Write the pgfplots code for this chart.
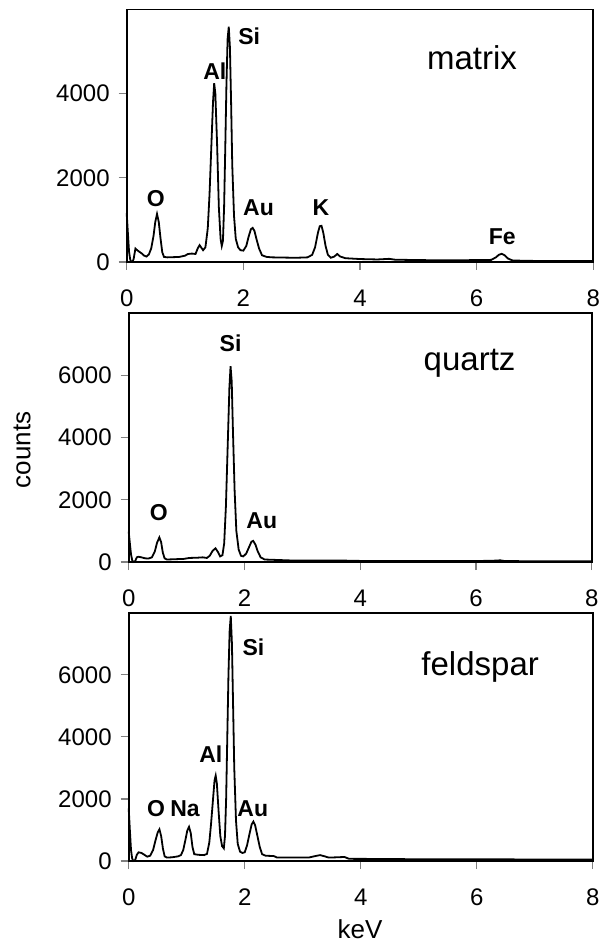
\documentclass[border=0pt]{standalone}
\usepackage{pgfplots}
\pgfplotsset{compat=1.18}
\usepackage{fontspec}
\setmainfont{Liberation Sans}

% EDX spectra, counts against keV
\pgfplotstableread{
x y
0.00 1160
0.02 700
0.04 250
0.06 60
0.08 0
0.10 0
0.12 80
0.15 320
0.18 280
0.22 240
0.26 200
0.30 150
0.34 130
0.38 180
0.42 320
0.46 620
0.49 950
0.52 1140
0.55 950
0.58 560
0.61 230
0.64 120
0.70 110
0.80 115
0.90 120
1.00 150
1.05 190
1.12 200
1.18 190
1.22 330
1.25 400
1.28 340
1.31 280
1.35 350
1.39 800
1.42 1600
1.45 2700
1.48 3800
1.50 4250
1.52 4000
1.55 2800
1.58 1300
1.61 550
1.63 380
1.65 500
1.67 1300
1.69 2700
1.71 4200
1.73 5300
1.75 5590
1.77 5100
1.79 3800
1.81 2300
1.84 1100
1.87 550
1.91 350
1.95 280
2.00 270
2.05 380
2.09 600
2.13 780
2.16 810
2.19 740
2.23 520
2.27 320
2.32 160
2.40 120
2.50 110
2.70 105
2.90 100
3.10 110
3.18 170
3.23 350
3.28 700
3.31 850
3.34 860
3.37 700
3.41 380
3.45 170
3.50 100
3.56 130
3.61 190
3.66 130
3.75 90
4.00 70
4.30 60
4.50 75
4.60 55
5.00 45
5.50 40
6.00 45
6.25 50
6.33 110
6.38 170
6.43 195
6.48 160
6.54 80
6.62 35
7.00 25
7.50 20
8.00 20
}\matrixdata

\pgfplotstableread{
x y
0.00 975
0.02 600
0.04 250
0.06 60
0.08 0
0.11 20
0.14 150
0.17 170
0.22 150
0.28 120
0.34 110
0.40 150
0.45 330
0.49 620
0.53 790
0.56 640
0.59 300
0.62 120
0.66 80
0.80 90
0.95 100
1.05 130
1.20 140
1.28 150
1.35 130
1.40 200
1.45 360
1.50 440
1.54 330
1.58 180
1.62 220
1.65 600
1.68 1800
1.71 3700
1.74 5600
1.76 6290
1.78 5800
1.80 4300
1.83 2300
1.86 1000
1.90 400
1.94 200
1.98 180
2.03 270
2.08 480
2.12 650
2.15 680
2.19 560
2.23 340
2.28 150
2.35 80
2.50 70
2.80 50
3.20 45
3.60 50
4.00 35
5.00 30
6.00 30
6.35 45
6.42 55
6.50 30
7.00 25
8.00 25
}\quartzdata

\pgfplotstableread{
x y
0.00 1700
0.02 1000
0.04 350
0.06 80
0.08 0
0.11 20
0.14 200
0.17 280
0.22 260
0.27 200
0.32 140
0.37 170
0.42 350
0.46 650
0.50 920
0.53 1020
0.56 800
0.59 400
0.62 150
0.66 110
0.75 120
0.85 150
0.90 190
0.94 350
0.98 700
1.01 980
1.04 1100
1.07 900
1.10 450
1.13 220
1.20 200
1.30 190
1.35 230
1.39 600
1.42 1200
1.45 1900
1.48 2600
1.50 2750
1.52 2500
1.55 1600
1.58 800
1.61 480
1.64 410
1.66 800
1.68 2000
1.70 4000
1.72 6000
1.74 7400
1.76 7900
1.78 7000
1.80 5000
1.82 3000
1.85 1300
1.88 550
1.92 300
1.96 260
2.00 280
2.04 500
2.08 850
2.12 1180
2.15 1270
2.18 1150
2.22 800
2.26 450
2.30 220
2.36 170
2.50 160
2.56 110
2.80 110
3.10 110
3.22 160
3.30 190
3.38 150
3.45 110
3.60 120
3.72 130
3.80 70
4.50 65
5.00 55
6.00 55
7.00 50
8.00 50
}\feldspardata

\pgfplotsset{
  edx/.style={
    scale only axis,
    xmin=0, xmax=8, ymin=0,
    xtick={0,2,4,6,8},
    tick align=outside,
    major tick length=4pt,
    xtick pos=bottom, ytick pos=left,
    tick style={gray, line width=0.6pt},
    axis line style={line width=0.9pt},
    tick label style={font=\fontsize{12}{14}\selectfont},
    xticklabel style={yshift=-6.5pt},
    yticklabel style={xshift=-1pt},
    /pgf/number format/assume math mode=true,
    /pgf/number format/1000 sep={},
    scaled y ticks=false,
    clip=false,
  },
}
\newcommand{\el}{\fontsize{11.5}{13}\selectfont\bfseries}
\newcommand{\nm}{\fontsize{16.5}{18}\selectfont}

\begin{document}
\begin{tikzpicture}
\useasboundingbox (0,0) rectangle (300pt,-471.5pt);

\begin{axis}[edx, at={(63.35pt,-4.75pt)}, anchor=north west,
    width=233.3pt, height=126.25pt, ymax=6000, ytick={0,2000,4000}]
\addplot[black, line width=0.9pt] table {\matrixdata};
\node[font=\el] at (axis cs:0.50,1500) {O};
\node[font=\el] at (axis cs:1.51,4530) {Al};
\node[font=\el] at (axis cs:2.10,5360) {Si};
\node[font=\el] at (axis cs:2.26,1285) {Au};
\node[font=\el] at (axis cs:3.33,1285) {K};
\node[font=\el] at (axis cs:6.44,600) {Fe};
\node[font=\nm] at (axis cs:5.92,4850) {matrix};
\end{axis}

\begin{axis}[edx, at={(64.35pt,-156.5pt)}, anchor=north west,
    width=231.5pt, height=124.5pt, ymax=8000, ytick={0,2000,4000,6000}]
\addplot[black, line width=0.9pt] table {\quartzdata};
\node[font=\el] at (axis cs:1.76,7040) {Si};
\node[font=\el] at (axis cs:0.52,1580) {O};
\node[font=\el] at (axis cs:2.30,1325) {Au};
\node[font=\nm] at (axis cs:5.89,6400) {quartz};
\end{axis}

\begin{axis}[edx, at={(64.35pt,-306.35pt)}, anchor=north west,
    width=232pt, height=124.15pt, ymax=8000, ytick={0,2000,4000,6000}]
\addplot[black, line width=0.9pt] table {\feldspardata};
\node[font=\el] at (axis cs:2.15,6880) {Si};
\node[font=\el] at (axis cs:1.415,3450) {Al};
\node[font=\el] at (axis cs:0.47,1700) {O};
\node[font=\el] at (axis cs:0.97,1700) {Na};
\node[font=\el] at (axis cs:2.14,1700) {Au};
\node[font=\nm] at (axis cs:6.06,6250) {feldspar};
\end{axis}

\node[rotate=90, inner sep=0pt, font=\fontsize{13}{15}\selectfont] at (11pt,-225pt) {counts};
\node[anchor=south, inner sep=0pt, font=\fontsize{13}{15}\selectfont] at (180pt,-469.5pt) {keV};
\end{tikzpicture}
\end{document}
